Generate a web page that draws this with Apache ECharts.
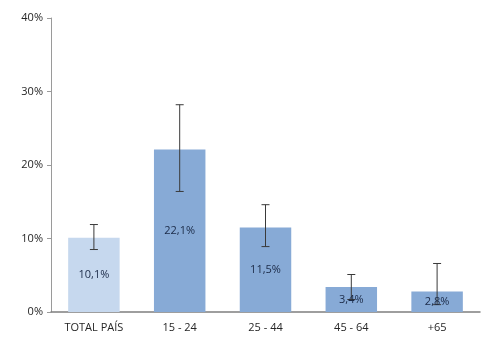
<!DOCTYPE html>
<html><head><meta charset="utf-8">
<script src="https://cdn.jsdelivr.net/npm/echarts@6/dist/echarts.min.js"></script>
<style>html,body{margin:0;padding:0;background:#fff}#c{width:501px;height:363px}</style>
</head><body><div id="c"></div>
<script>
var categories = ['TOTAL PAÍS', '15 - 24', '25 - 44', '45 - 64', '+65'];
var values = [10.1, 22.1, 11.5, 3.4, 2.8];
var errLow = [8.5, 16.4, 8.9, 1.7, 1.0];
var errHigh = [11.9, 28.2, 14.6, 5.1, 6.6];
var barColors = ['#c6d8ee', '#87aad6', '#87aad6', '#87aad6', '#87aad6'];
var yTicks = [0, 10, 20, 30, 40];

var chart = echarts.init(document.getElementById('c'));
var font = '"Open Sans", "Noto Sans", sans-serif';
function fmt(v) { return v.toFixed(1).replace('.', ',') + '%'; }
chart.setOption({
  animation: false,
  grid: {left: 51, right: 21, top: 18, bottom: 51, containLabel: false},
  xAxis: {
    type: 'category', data: categories,
    axisLine: {lineStyle: {color: '#7f7f7f', width: 1.5}},
    axisTick: {show: false},
    axisLabel: {color: '#262626', fontFamily: font, fontSize: 11, margin: 10}
  },
  yAxis: {
    type: 'value', min: yTicks[0], max: yTicks[yTicks.length - 1], interval: 10,
    axisLine: {show: true, lineStyle: {color: '#9a9a9a'}},
    axisTick: {show: true, length: 4, lineStyle: {color: '#9a9a9a'}},
    splitLine: {show: false},
    axisLabel: {color: '#262626', fontFamily: font, fontSize: 11, margin: 8, formatter: '{value}%'}
  },
  series: [{
    type: 'bar', barWidth: '60%', z: 2,
    data: values.map(function (v, i) { return {value: v, itemStyle: {color: barColors[i]}}; })
  }, {
    type: 'custom', z: 5,
    data: categories.map(function (c, i) { return [i, errLow[i], errHigh[i]]; }),
    renderItem: function (params, api) {
      var lo = api.coord([api.value(0), api.value(1)]);
      var hi = api.coord([api.value(0), api.value(2)]);
      var w = 4;
      var st = {stroke: '#3a3a3a', lineWidth: 1};
      return {type: 'group', children: [
        {type: 'line', shape: {x1: hi[0], y1: hi[1], x2: lo[0], y2: lo[1]}, style: st},
        {type: 'line', shape: {x1: hi[0] - w, y1: hi[1], x2: hi[0] + w, y2: hi[1]}, style: st},
        {type: 'line', shape: {x1: lo[0] - w, y1: lo[1], x2: lo[0] + w, y2: lo[1]}, style: st}
      ]};
    }
  }, {
    type: 'custom', z: 8,
    data: values.map(function (v, i) { return [i, v]; }),
    renderItem: function (params, api) {
      var top = api.coord([api.value(0), api.value(1)]);
      var base = api.coord([api.value(0), 0]);
      return {type: 'text', x: top[0], y: (top[1] + base[1]) / 2,
        style: {text: fmt(api.value(1)), fill: '#1b2a47', font: '11px ' + font,
          align: 'center', verticalAlign: 'middle'}};
    }
  }]
});
</script></body></html>
